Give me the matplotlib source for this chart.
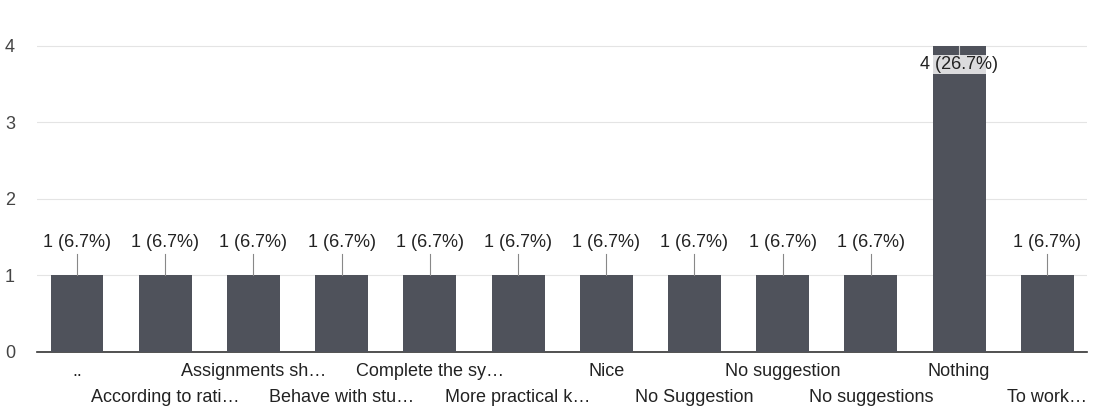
import matplotlib.pyplot as plt
import numpy as np

plt.rcParams['font.family'] = ['Liberation Sans', 'DejaVu Sans']

# Data
categories = ['..', 'According to rati…', 'Assignments sh…', 'Behave with stu…',
              'Complete the sy…', 'More practical k…', 'Nice', 'No Suggestion',
              'No suggestion', 'No suggestions', 'Nothing', 'To work…']
counts = [1, 1, 1, 1, 1, 1, 1, 1, 1, 1, 4, 1]
total = 15
y_ticks = [0, 1, 2, 3, 4]

fig = plt.figure(figsize=(10.98, 4.13), dpi=100)
ax = fig.add_axes([0.034, 0.148, 0.956, 0.825])

x = np.arange(len(categories))
ax.bar(x, counts, width=0.6, color='#4f525b', zorder=3)

# value labels with small leader lines
for xi, c in zip(x, counts):
    label = f'{c} ({c / total * 100:.1f}%)'
    if c == max(counts):
        ax.plot([xi, xi], [c - 0.12, c], color='#cccccc', lw=0.8, zorder=4)
        ax.text(xi, c - 0.25, label, ha='center', va='center', fontsize=13,
                color='#222222', zorder=5,
                bbox=dict(boxstyle='square,pad=0.05', fc='white', ec='none', alpha=0.8))
    else:
        ax.plot([xi, xi], [c, c + 0.28], color='#888888', lw=0.8, zorder=4)
        ax.text(xi, c + 0.43, label, ha='center', va='center', fontsize=13,
                color='#222222', zorder=5)

ax.set_ylim(0, 4.45)
ax.set_xlim(-0.45, len(categories) - 0.55)
ax.set_yticks(y_ticks)
ax.tick_params(axis='y', length=0, labelsize=13, labelcolor='#444444', pad=16)
ax.grid(axis='y', color='#e4e4e4', linewidth=0.8, zorder=0)
ax.set_axisbelow(True)

ax.set_xticks(x)
ax.set_xticklabels([])
ax.tick_params(axis='x', length=0)
# staggered category labels
for xi, cat in zip(x, categories):
    off = -0.26 if xi % 2 == 0 else -0.6
    ax.text(xi, off, cat, ha='center', va='center', fontsize=13, color='#222222',
            clip_on=False)

for side in ['top', 'right', 'left']:
    ax.spines[side].set_visible(False)
ax.spines['bottom'].set_color('#333333')
ax.spines['bottom'].set_linewidth(1.2)

plt.savefig('out.png', dpi=100)
plt.close()
